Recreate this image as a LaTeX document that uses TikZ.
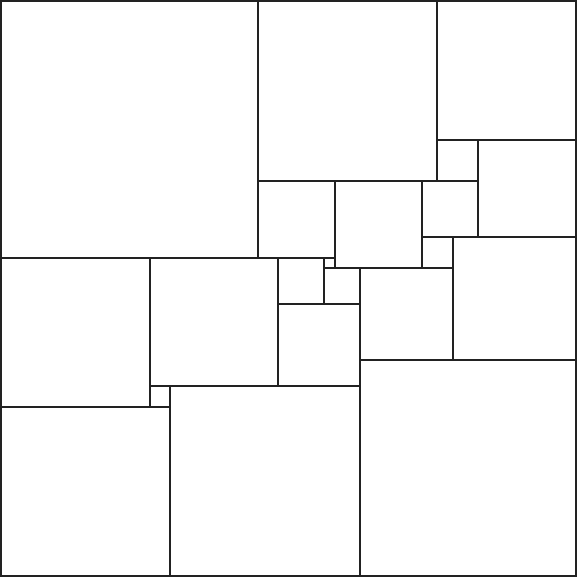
\documentclass[tikz,border=0pt]{standalone}
\usepackage{tikz}
\definecolor{edgeDark}{RGB}{34, 34, 34}

\begin{document}
\begin{tikzpicture}[x=1mm, y=-1mm]
  \tikzset{tile/.style={draw=edgeDark, line width=0.4mm}}
  \useasboundingbox (-0.2,-0.2) rectangle (112.2,112.2);

  % squares of side 112, listed as x / y / side (y counted downwards)
  \foreach \x/\y/\s in {0/0/50, 50/0/35, 85/0/27,
                        85/27/8, 93/27/19,
                        50/35/15, 65/35/17, 82/35/11,
                        82/46/6, 88/46/24,
                        0/50/29, 29/50/25, 54/50/9, 63/50/2,
                        63/52/7, 70/52/18, 54/59/16,
                        70/70/42, 29/75/4, 33/75/37, 0/79/33}
    \draw[tile] (\x,\y) rectangle ++(\s,\s);
\end{tikzpicture}
\end{document}
